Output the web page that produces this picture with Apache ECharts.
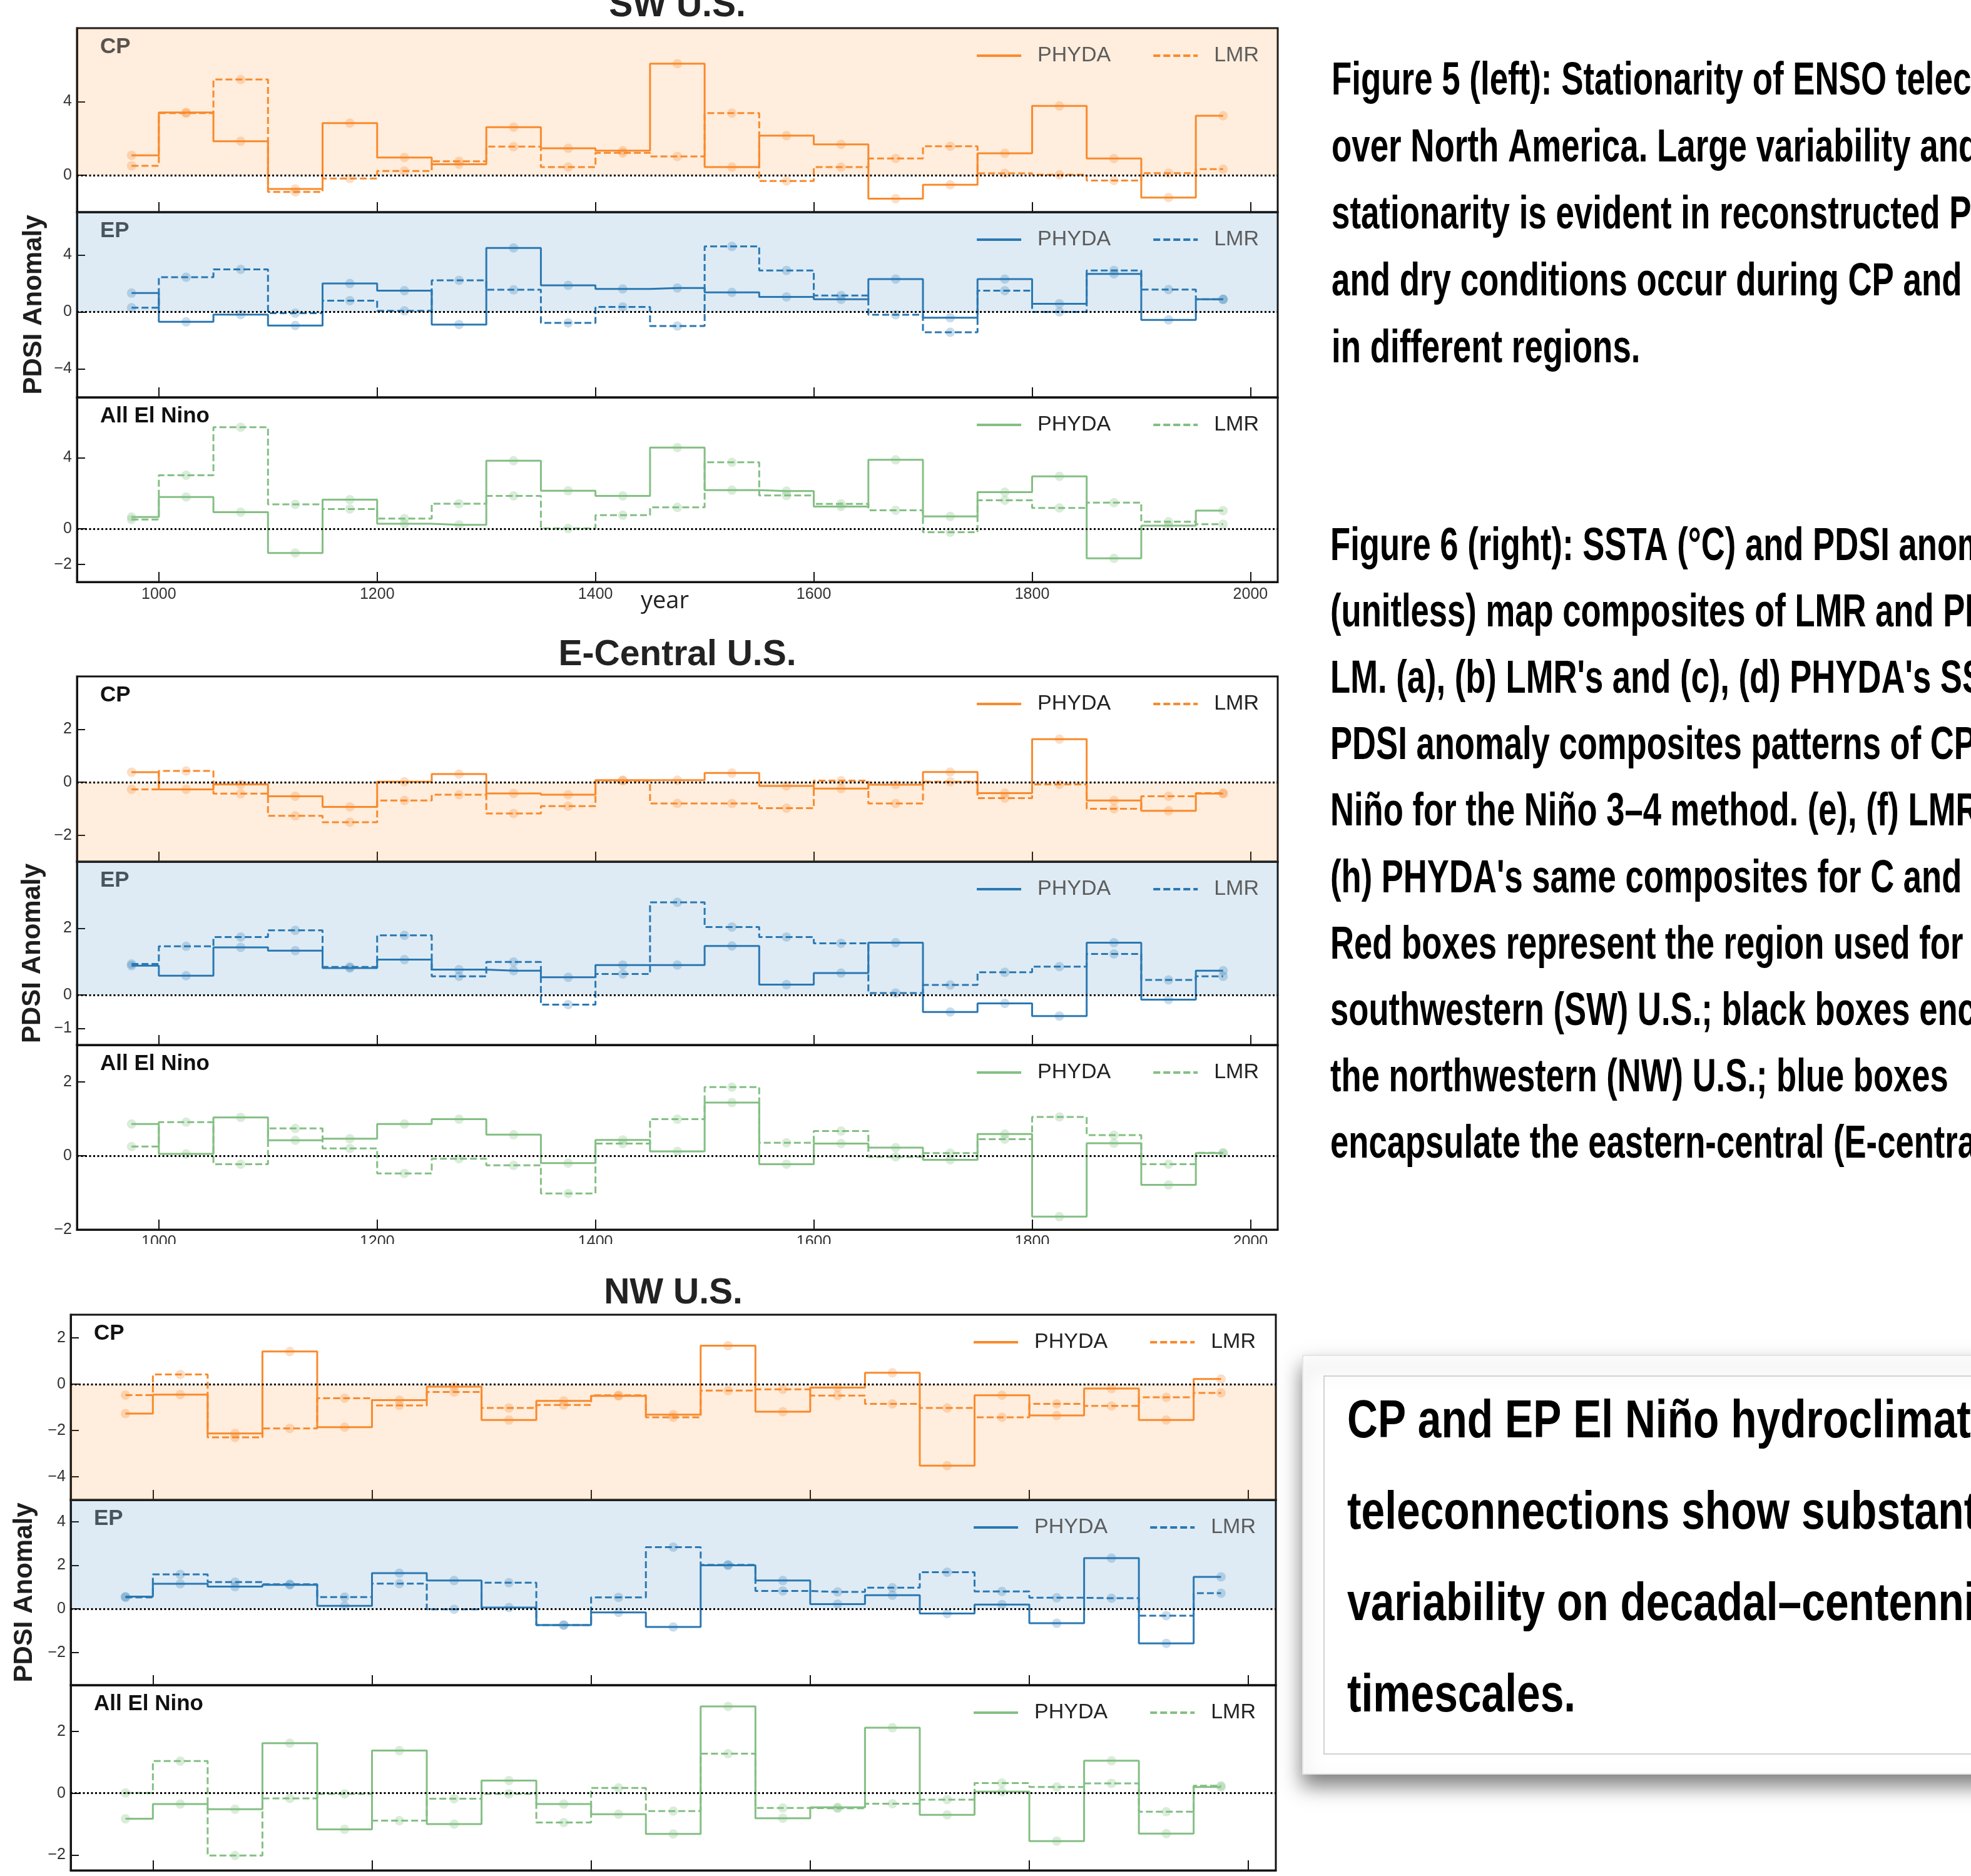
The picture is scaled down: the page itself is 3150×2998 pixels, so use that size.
<!DOCTYPE html>
<html><head><meta charset="utf-8">
<script src="https://cdn.jsdelivr.net/npm/echarts@6/dist/echarts.min.js"></script>
<style>html,body{margin:0;padding:0;background:#fff}#c{width:3150px;height:2998px}</style>
</head><body><div id="c"></div>
<script>
// ---------------- DATA ----------------
const years = [975,1025,1075,1125,1175,1225,1275,1325,1375,1425,1475,1525,1575,1625,1675,1725,1775,1825,1875,1925,1975];
const xTicks = [1000,1200,1400,1600,1800,2000];

// SW U.S.
const swCpPhyda  = [1.09,3.42,1.85,-0.74,2.84,0.97,0.60,2.62,1.47,1.34,6.07,0.45,2.16,1.68,-1.27,-0.51,1.20,3.77,0.92,-1.21,3.24];
const swCpLmr    = [0.52,3.38,5.21,-0.90,-0.17,0.24,0.76,1.56,0.45,1.22,1.03,3.38,-0.31,0.45,0.92,1.58,0.11,0.03,-0.28,0.12,0.34];
const swEpPhyda  = [1.32,-0.70,-0.19,-0.96,1.99,1.49,-0.89,4.49,1.86,1.61,1.68,1.37,1.05,0.88,2.30,-0.41,2.30,0.57,2.66,-0.56,0.88];
const swEpLmr    = [0.29,2.43,2.98,-0.09,0.79,0.07,2.21,1.55,-0.77,0.35,-0.99,4.59,2.91,1.15,-0.20,-1.43,1.49,0.00,2.91,1.56,0.88];
const swAllPhyda = [0.66,1.79,0.93,-1.37,1.64,0.28,0.22,3.83,2.14,1.85,4.57,2.17,2.12,1.25,3.88,0.69,2.06,2.95,-1.67,0.17,1.02];
const swAllLmr   = [0.52,3.01,5.72,1.37,1.11,0.57,1.41,1.85,0.01,0.76,1.20,3.74,1.87,1.40,1.04,-0.20,1.60,1.17,1.47,0.39,0.25];
// E-Central U.S.
const ecCpPhyda  = [0.38,-0.27,-0.08,-0.53,-0.93,0.02,0.31,-0.42,-0.47,0.08,0.08,0.35,-0.14,-0.24,-0.09,0.39,-0.41,1.63,-0.69,-1.08,-0.43];
const ecCpLmr    = [-0.27,0.43,-0.43,-1.27,-1.51,-0.69,-0.47,-1.18,-0.90,0.06,-0.80,-0.80,-0.98,0.06,-0.80,0.02,-0.60,-0.08,-1.00,-0.53,-0.41];
const ecEpPhyda  = [0.88,0.58,1.43,1.33,0.81,1.06,0.76,0.73,0.53,0.90,0.90,1.47,0.31,0.66,1.57,-0.51,-0.25,-0.63,1.57,-0.14,0.73];
const ecEpLmr    = [0.93,1.46,1.74,1.94,0.84,1.79,0.56,0.99,-0.29,0.63,2.78,2.04,1.74,1.55,0.06,0.30,0.68,0.85,1.23,0.45,0.56];
const ecAllPhyda = [0.86,0.05,1.04,0.42,0.46,0.86,0.99,0.57,-0.20,0.43,0.12,1.44,-0.23,0.33,0.22,-0.11,0.59,-1.65,0.34,-0.79,0.07];
const ecAllLmr   = [0.25,0.91,-0.23,0.74,0.20,-0.48,-0.08,-0.26,-1.02,0.33,0.99,1.86,0.35,0.67,-0.03,0.07,0.45,1.05,0.56,-0.23,0.08];
// NW U.S.
const nwCpPhyda  = [-1.27,-0.45,-2.13,1.41,-1.86,-0.69,-0.11,-1.55,-0.72,-0.51,-1.32,1.66,-1.19,-0.15,0.49,-3.52,-0.48,-1.35,-0.19,-1.55,0.22];
const nwCpLmr    = [-0.47,0.42,-2.30,-1.91,-0.61,-0.92,-0.34,-1.03,-0.90,-0.48,-1.43,-0.28,-0.22,-0.49,-0.85,-1.03,-1.43,-0.85,-0.94,-0.57,-0.38];
const nwEpPhyda  = [0.56,1.15,1.02,1.10,0.14,1.64,1.30,0.06,-0.74,-0.16,-0.83,2.00,1.30,0.22,0.63,-0.21,0.20,-0.66,2.33,-1.58,1.47];
const nwEpLmr    = [0.53,1.58,1.23,1.13,0.54,1.16,-0.02,1.20,-0.74,0.53,2.83,2.02,0.82,0.78,0.97,1.68,0.80,0.51,0.49,-0.31,0.72];
const nwAllPhyda = [-0.83,-0.35,-0.52,1.62,-1.17,1.38,-1.00,0.41,-0.35,-0.68,-1.32,2.81,-0.81,-0.46,2.12,-0.70,0.05,-1.55,1.05,-1.31,0.20];
const nwAllLmr   = [0.01,1.04,-2.02,-0.17,-0.02,-0.89,-0.18,-0.02,-0.95,0.17,-0.58,1.28,-0.48,-0.49,-0.34,-0.21,0.33,0.20,0.32,-0.60,0.24];

// y tick labels per panel
const swCpTicks = [0,4],        swEpTicks = [-4,0,4],     swAllTicks = [-2,0,4];
const ecCpTicks = [-2,0,2],     ecEpTicks = [-1,0,2],     ecAllTicks = [-2,0,2];
const nwCpTicks = [-4,-2,0,2],  nwEpTicks = [-2,0,2,4],   nwAllTicks = [-2,0,2];

const panelLabels = {cp:'CP', ep:'EP', all:'All El Nino'};
const seriesNames = ['PHYDA','LMR'];

// text
const fig5Lines = [
  'Figure 5 (left): Stationarity of ENSO teleconnections',
  'over North America. Large variability and non-',
  'stationarity is evident in reconstructed PDSI. Wet',
  'and dry conditions occur during CP and EP El Niño',
  'in different regions.'
];
const fig6Lines = [
  'Figure 6 (right): SSTA (°C) and PDSI anomaly',
  '(unitless) map composites of LMR and PHYDA over the',
  "LM. (a), (b) LMR's and (c), (d) PHYDA's SSTA and",
  'PDSI anomaly composites patterns of CP and EP El',
  "Niño for the Niño 3–4 method. (e), (f) LMR's and (g),",
  "(h) PHYDA's same composites for C and E method.",
  'Red boxes represent the region used for the',
  'southwestern (SW) U.S.; black boxes encapsulate',
  'the northwestern (NW) U.S.; blue boxes',
  'encapsulate the eastern-central (E-central) U.S.'
];
const boxLines = [
  'CP and EP El Niño hydroclimate',
  'teleconnections show substantial',
  'variability on decadal–centennial',
  'timescales.'
];

// ---------------- LAYOUT ----------------
const groups = {
  sw: {title:'SW U.S.', left:123, right:2042, rows:[[45,339],[339,635],[635,930]], titleY:10, nameGap:47, legendRight:1138},
  ec: {title:'E-Central U.S.', left:123, right:2042, rows:[[1081,1377],[1377,1670],[1670,1965]], titleY:1047, nameGap:50, legendRight:1138},
  nw: {title:'NW U.S.', left:113, right:2039, rows:[[2101,2397],[2397,2693],[2693,2989]], titleY:2067, nameGap:53, legendRight:1143}
};
const panels = [
  {g:'sw', row:0, kind:'cp',  phyda:swCpPhyda,  lmr:swCpLmr,  min:-2,   max:8,   ticks:swCpTicks,  shade:'above'},
  {g:'sw', row:1, kind:'ep',  phyda:swEpPhyda,  lmr:swEpLmr,  min:-6,   max:7,   ticks:swEpTicks,  shade:'above'},
  {g:'sw', row:2, kind:'all', phyda:swAllPhyda, lmr:swAllLmr, min:-3,   max:7.4, ticks:swAllTicks, shade:null},
  {g:'ec', row:0, kind:'cp',  phyda:ecCpPhyda,  lmr:ecCpLmr,  min:-3,   max:4,   ticks:ecCpTicks,  shade:'below'},
  {g:'ec', row:1, kind:'ep',  phyda:ecEpPhyda,  lmr:ecEpLmr,  min:-1.5, max:4,   ticks:ecEpTicks,  shade:'above'},
  {g:'ec', row:2, kind:'all', phyda:ecAllPhyda, lmr:ecAllLmr, min:-2,   max:3,   ticks:ecAllTicks, shade:null},
  {g:'nw', row:0, kind:'cp',  phyda:nwCpPhyda,  lmr:nwCpLmr,  min:-5,   max:3,   ticks:nwCpTicks,  shade:'below'},
  {g:'nw', row:1, kind:'ep',  phyda:nwEpPhyda,  lmr:nwEpLmr,  min:-3.5, max:5,   ticks:nwEpTicks,  shade:'above'},
  {g:'nw', row:2, kind:'all', phyda:nwAllPhyda, lmr:nwAllLmr, min:-2.5, max:3.5, ticks:nwAllTicks, shade:null}
];
const lineColor  = {cp:'#f98a2c', ep:'#2a78b3', all:'#84bf84'};
const dotColor   = {cp:'rgba(249,138,44,0.28)', ep:'rgba(42,120,179,0.26)', all:'rgba(132,191,132,0.30)'};
const shadeColor = {cp:'rgba(255,127,14,0.14)', ep:'rgba(31,119,180,0.15)'};
const shadedLabelColor = {cp:'#5a534e', ep:'#4a545e'};
const FONT = 'Liberation Sans';
const minusFmt = v => (v < 0 ? '\u2212' + Math.abs(v) : String(v));

const grids = [], xAxes = [], yAxes = [], series = [], legends = [], graphics = [];

panels.forEach((p, i) => {
  const g = groups[p.g];
  const [top, bottom] = g.rows[p.row];
  const isBottom = p.row === 2;
  const key = p.g + p.kind;
  grids.push({left:g.left, top:top, width:g.right-g.left, height:bottom-top, show:true,
    borderColor:'#141414', borderWidth:3, backgroundColor:'transparent', containLabel:false, outerBoundsMode:'none'});
  const xa = {type:'value', gridIndex:i, min:925, max:2025,
    axisLine:{show:true, onZero:false, lineStyle:{color:'#141414', width:3}},
    axisTick:{show:true, inside:true, length:16, customValues:xTicks, lineStyle:{color:'#141414', width:2}},
    axisLabel:{show:isBottom, customValues:xTicks, formatter: v => String(v), margin:8, fontSize:25, color:'#333', fontFamily:FONT},
    splitLine:{show:false}};
  if (p.g === 'sw' && isBottom) {
    xa.name = 'year'; xa.nameLocation = 'middle'; xa.nameGap = 12; xa.nameMoveOverlap = false;
    xa.nameTextStyle = {fontSize:38, fontFamily:'Open Sans', color:'#222', padding:[0,40,0,0]};
  }
  xAxes.push(xa);
  const ya = {type:'value', gridIndex:i, min:p.min, max:p.max,
    axisLine:{show:true, onZero:false, lineStyle:{color:'#141414', width:3}},
    axisTick:{show:true, inside:true, length:13, customValues:p.ticks, lineStyle:{color:'#141414', width:2}},
    axisLabel:{show:true, customValues:p.ticks, formatter:minusFmt, margin:8, fontSize:25, color:'#333', fontFamily:FONT},
    splitLine:{show:false}};
  if (p.row === 1) {
    ya.name = 'PDSI Anomaly'; ya.nameLocation = 'middle'; ya.nameRotate = 90; ya.nameGap = g.nameGap;
    ya.nameTextStyle = {fontSize:42, fontWeight:'bold', fontFamily:FONT, color:'#1e1e1e'};
  }
  yAxes.push(ya);

  const col = lineColor[p.kind];
  const shadeData = p.shade === 'above' ? [[{yAxis:0},{yAxis:p.max}]] :
                    p.shade === 'below' ? [[{yAxis:p.min},{yAxis:0}]] : [];
  [p.phyda, p.lmr].forEach((vals, k) => {
    const s = {type:'line', name:seriesNames[k] + '|' + key, xAxisIndex:i, yAxisIndex:i,
      data: years.map((yr, j) => [yr, vals[j]]),
      step:'middle', symbol:'circle', symbolSize:15, showSymbol:true, color:col,
      lineStyle:{color:col, width:3, type: k === 0 ? 'solid' : [11,5]},
      itemStyle:{color:dotColor[p.kind]},
      emphasis:{disabled:true}, animation:false, z: k === 0 ? 3 : 2};
    if (k === 0) {
      s.markArea = {silent:true, itemStyle:{color:shadeColor[p.kind] || 'transparent'}, data:shadeData};
      s.markLine = {silent:true, symbol:['none','none'], label:{show:false},
        lineStyle:{color:'#000', type:[3,3.5], width:3}, emphasis:{disabled:true}, data:[{yAxis:0}], animation:false};
    }
    series.push(s);
  });
  const shadedTop = p.shade === 'above';
  legends.push({data:seriesNames.map(n => n + '|' + key), formatter: n => n.split('|')[0],
    right:g.legendRight, top:top+27, padding:0, orient:'horizontal', itemWidth:71, itemHeight:14, itemGap:66,
    selectedMode:false, itemStyle:{opacity:0}, lineStyle:{width:4},
    textStyle:{fontSize:34, fontFamily:FONT, color: shadedTop ? '#5c5c5c' : '#222', padding:[0,0,0,21]}});
  graphics.push({type:'text', x:g.left+37, y:top+30, z:10, silent:true,
    style:{text:panelLabels[p.kind], font:'bold 35px "' + FONT + '"',
      fill: shadedTop ? shadedLabelColor[p.kind] : '#111', verticalAlign:'middle'}});
});

// group titles
Object.values(groups).forEach(g => {
  graphics.push({type:'text', x:(g.left+g.right)/2, y:g.titleY, z:10, silent:true,
    style:{text:g.title, font:'bold 57px "' + FONT + '"', fill:'#222', align:'center', verticalAlign:'middle'}});
});
// the E-Central tick labels are partly hidden under the panel below it
graphics.push({type:'rect', shape:{x:0, y:1988, width:2070, height:50}, z:50, silent:true, style:{fill:'#fff'}});

// right-hand text, condensed to fit the measured widths
const ctx = document.createElement('canvas').getContext('2d');
const measure = (t, f) => { ctx.font = f; return ctx.measureText(t).width; };
const capFont = 'bold 75px "Liberation Sans Narrow", "Liberation Sans"';
const s5 = (498 + 1003) / (measure(fig5Lines[4], capFont) + measure('and dry conditions occur during CP and', capFont));
const s6 = s5 * 0.995;
const boxFont = 'bold 86px "Liberation Sans Narrow", "Liberation Sans"';
const sBox = (372 + 990) / (measure('timescales.', boxFont) + measure('CP and EP El Niño hydroclimat', boxFont));

fig5Lines.forEach((t, i) => graphics.push({type:'text', x:2128, y:130 + i*107.1, scaleX:s5, z:10, silent:true,
  style:{text:t, font:capFont, fill:'#000', verticalAlign:'middle'}}));
fig6Lines.forEach((t, i) => graphics.push({type:'text', x:2126, y:874 + i*106.2, scaleX:s6, z:10, silent:true,
  style:{text:t, font:capFont, fill:'#000', verticalAlign:'middle'}}));

// box with lifted shadow
graphics.push({type:'rect', shape:{x:2082, y:2166, width:1200, height:669}, z:5, silent:true,
  style:{fill:'#fff', stroke:'#e4e4e4', lineWidth:2, shadowBlur:30, shadowOffsetY:18, shadowOffsetX:0, shadowColor:'rgba(0,0,0,0.5)'}});
graphics.push({type:'rect', shape:{x:2116, y:2199, width:1100, height:604}, z:6, silent:true,
  style:{fill:'none', stroke:'#d2d2d2', lineWidth:2}});
boxLines.forEach((t, i) => graphics.push({type:'text', x:2153, y:2273 + i*146, scaleX:sBox, z:10, silent:true,
  style:{text:t, font:boxFont, fill:'#000', verticalAlign:'middle'}}));

const chart = echarts.init(document.getElementById('c'), null, {renderer:'canvas', width:3150, height:2998});
chart.setOption({
  animation:false,
  backgroundColor:'#fff',
  textStyle:{fontFamily:FONT},
  grid:grids, xAxis:xAxes, yAxis:yAxes, series:series, legend:legends, graphic:graphics
});
</script></body></html>
